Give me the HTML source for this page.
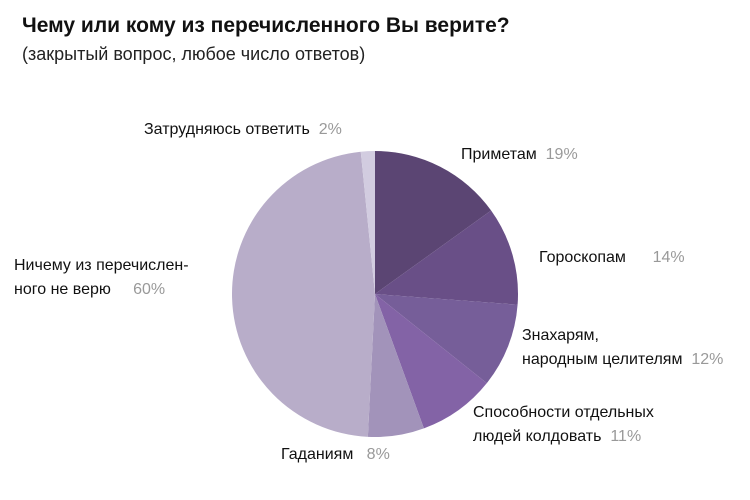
<!DOCTYPE html>
<html><head><meta charset="utf-8"><style>
body{margin:0;background:#fff;width:750px;height:500px;overflow:hidden;font-family:"Liberation Sans","DejaVu Sans",sans-serif}
.t{position:absolute;left:22px;top:14px;font-size:21px;font-weight:bold;color:#111}
.s{position:absolute;left:22px;top:44px;font-size:18px;color:#222}
.l{position:absolute;font-size:16px;color:#111;line-height:24px}
.p{color:#999}
</style></head><body>
<div class="t">Чему или кому из перечисленного Вы верите?</div>
<div class="s">(закрытый вопрос, любое число ответов)</div>
<svg id="c" width="750" height="500" style="position:absolute;left:0;top:0"></svg>
<div class="l" style="left:461px;top:143px">Приметам &nbsp;<span class="p">19%</span></div>
<div class="l" style="left:539px;top:246px">Гороскопам &nbsp;&nbsp;&nbsp;&nbsp;&nbsp;<span class="p">14%</span></div>
<div class="l" style="left:522px;top:324px">Знахарям,<br>народным целителям &nbsp;<span class="p">12%</span></div>
<div class="l" style="left:473px;top:401px">Способности отдельных<br>людей колдовать &nbsp;<span class="p">11%</span></div>
<div class="l" style="left:281px;top:443px">Гаданиям &nbsp;&nbsp;<span class="p">8%</span></div>
<div class="l" style="left:14px;top:254px">Ничему из перечислен-<br>ного не верю &nbsp;&nbsp;&nbsp;&nbsp;<span class="p">60%</span></div>
<div class="l" style="left:144px;top:118px">Затрудняюсь ответить &nbsp;<span class="p">2%</span></div>
<script>
const categories=["Приметам","Гороскопам","Знахарям","Колдовство","Гаданиям","Ничему","Затрудняюсь"];
const values=[19,14,12,11,8,60,2];
const colors=["#5b4573","#694f87","#765e99","#8363a6","#a293ba","#b8adc9","#d2cce0"];
const svg=document.getElementById('c');
const cx=375,cy=294,r=143;
const total=values.reduce((a,b)=>a+b,0);
let a=0;
function pt(ang){return [cx+r*Math.sin(ang),cy-r*Math.cos(ang)];}
values.forEach((v,i)=>{
  const a2=a+v/total*2*Math.PI;
  const [x1,y1]=pt(a),[x2,y2]=pt(a2);
  const p=document.createElementNS('http://www.w3.org/2000/svg','path');
  p.setAttribute('d',`M${cx},${cy}L${x1},${y1}A${r},${r} 0 ${a2-a>Math.PI?1:0} 1 ${x2},${y2}Z`);
  p.setAttribute('fill',colors[i]);
  
  
  svg.appendChild(p);
  a=a2;
});
</script>
</body></html>
